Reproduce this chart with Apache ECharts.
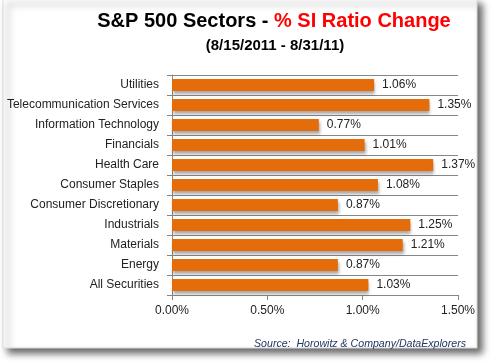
<!DOCTYPE html>
<html><head><meta charset="utf-8">
<script src="https://cdn.jsdelivr.net/npm/echarts@6/dist/echarts.min.js"></script>
<style>html,body{margin:0;padding:0;background:#fff}#c{width:494px;height:364px}</style>
</head><body><div id="c"></div>
<script>
const categories = ['Utilities','Telecommunication Services','Information Technology','Financials','Health Care','Consumer Staples','Consumer Discretionary','Industrials','Materials','Energy','All Securities'];
const values = [1.06, 1.35, 0.77, 1.01, 1.37, 1.08, 0.87, 1.25, 1.21, 0.87, 1.03];
const titleBlack = 'S&P 500 Sectors - ';
const titleRed = '% SI Ratio Change';
const subtitle = '(8/15/2011 - 8/31/11)';
const source = 'Source:  Horowitz & Company/DataExplorers';
const xMin = 0, xMax = 1.5, xStep = 0.5;

const FONT = 'Liberation Sans';
const chart = echarts.init(document.getElementById('c'), null, {renderer:'canvas'});
chart.setOption({
  animation: false,
  backgroundColor: '#fff',
  graphic: [
    {type:'rect', z:-10, shape:{x:3, y:-1, width:474, height:349},
     style:{fill:'#fff', stroke:'#d9d9d9', lineWidth:1, shadowBlur:7, shadowOffsetX:5, shadowOffsetY:5, shadowColor:'rgba(0,0,0,0.6)'}}
  ],
  title: [
    {text: '{a|' + titleBlack + '}{b|' + titleRed + '}', left: 269, top: 6, textAlign:'center',
     textStyle:{rich:{a:{fontFamily:FONT, fontWeight:'bold', fontSize:20, color:'#000'}, b:{fontFamily:FONT, fontWeight:'bold', fontSize:20, color:'#ff0000'}}}},
    {text: subtitle, left: 270, top: 33, textAlign:'center',
     textStyle:{fontFamily:FONT, fontWeight:'bold', fontSize:15, color:'#000'}},
    {text: source, right: 23, top: 334,
     textStyle:{fontFamily:FONT, fontStyle:'italic', fontWeight:'normal', fontSize:10.6, color:'#1f3864'}}
  ],
  grid: {left:172, right:36, top:75, bottom:69, containLabel:false},
  xAxis: {
    type:'value', min:xMin, max:xMax, interval:xStep,
    axisLine:{show:true, lineStyle:{color:'#868686'}},
    axisTick:{show:true, length:5, lineStyle:{color:'#868686'}},
    splitLine:{show:false},
    axisLabel:{margin:10, fontFamily:FONT, fontSize:12, color:'#222', formatter: v => v.toFixed(2) + '%'}
  },
  yAxis: {
    type:'category', data:categories, inverse:true,
    axisLine:{show:true, lineStyle:{color:'#868686'}},
    axisTick:{show:true, length:5, lineStyle:{color:'#868686'}},
    splitLine:{show:true, lineStyle:{color:'#868686'}},
    axisLabel:{margin:13, fontFamily:FONT, fontSize:12, color:'#222'}
  },
  series: [{
    type:'bar', data:values, barWidth:12,
    itemStyle:{color:'#e46c0a', shadowColor:'rgba(0,0,0,0.35)', shadowBlur:3, shadowOffsetY:3, shadowOffsetX:1},
    label:{show:true, position:'right', distance:8, fontFamily:FONT, fontSize:12, color:'#222', formatter: p => p.value.toFixed(2) + '%'}
  }]
});
</script></body></html>
